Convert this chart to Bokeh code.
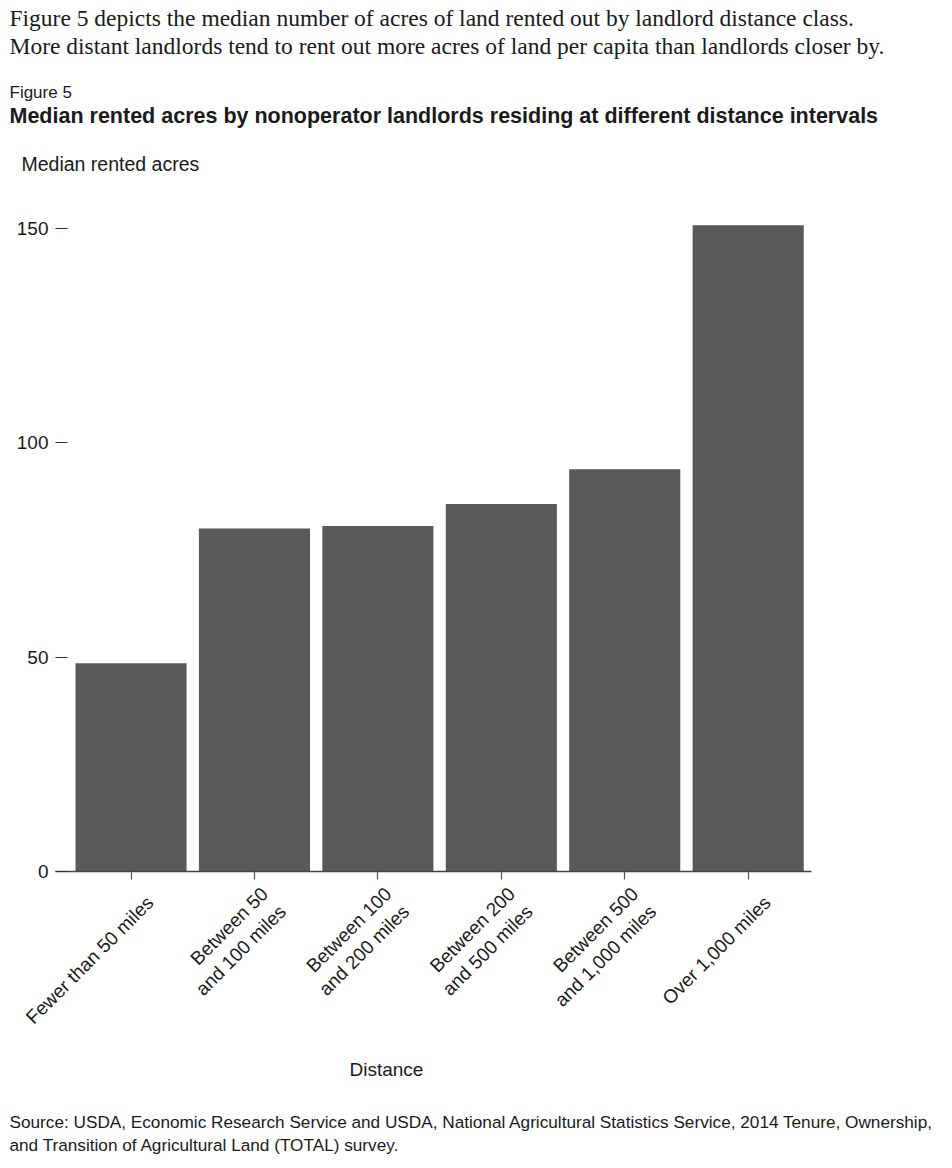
from math import pi
from bokeh.plotting import figure
from bokeh.models import Range1d, FixedTicker, Title, ColumnDataSource, LinearAxis
from bokeh.embed import file_html
from bokeh.resources import INLINE

# ---- data ----
categories = [
    "Fewer than 50 miles",
    "Between 50\nand 100 miles",
    "Between 100\nand 200 miles",
    "Between 200\nand 500 miles",
    "Between 500\nand 1,000 miles",
    "Over 1,000 miles",
]
median_acres = [48.6, 80.0, 80.6, 85.7, 93.8, 150.7]
y_ticks = [0, 50, 100, 150]

intro_lines = [
    "Figure 5 depicts the median number of acres of land rented out by landlord distance class.",
    "More distant landlords tend to rent out more acres of land per capita than landlords closer by.",
]
figure_label = "Figure 5"
title_text = "Median rented acres by nonoperator landlords residing at different distance intervals"
y_label = "Median rented acres"
x_label = "Distance"
source_lines = [
    "Source: USDA, Economic Research Service and USDA, National Agricultural Statistics Service, 2014 Tenure, Ownership,",
    "and Transition of Agricultural Land (TOTAL) survey.",
]

SANS = "Liberation Sans"
SERIF = "Liberation Serif"
BAR = "#595959"
TXT = "#1a1a1a"

x_pos = list(range(len(categories)))
label_shift = 0.155
label_pos = [i + label_shift for i in x_pos]
src = ColumnDataSource(dict(x=x_pos, top=median_acres))

p = figure(
    width=944, height=1160, title=None,
    x_range=Range1d(-0.612, 5.513), y_range=Range1d(0, 160),
    min_border_left=55, min_border_right=133,
    min_border_top=185, min_border_bottom=289,
    output_backend="svg", toolbar_location=None,
    outline_line_color=None, background_fill_color="white",
    border_fill_color="white",
)
p.grid.visible = False

p.vbar(x="x", top="top", bottom=0, width=0.9, source=src,
       fill_color=BAR, line_color=None)

# y axis
ya = p.yaxis[0]
ya.ticker = FixedTicker(ticks=y_ticks)
ya.axis_line_color = None
ya.major_tick_in = 12
ya.major_tick_out = 0
ya.minor_tick_line_color = None
ya.major_tick_line_color = "#333333"
ya.major_tick_line_width = 1.2
ya.major_label_standoff = 7
ya.major_label_text_font = SANS
ya.major_label_text_font_size = "19px"
ya.major_label_text_color = TXT

# x axis: line + tick marks only
xa = p.xaxis[0]
xa.ticker = FixedTicker(ticks=x_pos)
xa.major_label_overrides = {i: "" for i in x_pos}
xa.axis_line_color = "#444444"
xa.axis_line_width = 1.6
xa.major_tick_in = 0
xa.major_tick_out = 8
xa.major_tick_line_color = "#555555"
xa.major_tick_line_width = 1.2
xa.minor_tick_line_color = None
xa.major_label_standoff = 0

# x axis: category labels
xl = LinearAxis(ticker=FixedTicker(ticks=label_pos),
                major_label_overrides={v: c for v, c in zip(label_pos, categories)},
                major_label_orientation=pi / 4,
                axis_line_color=None, major_tick_line_color=None,
                minor_tick_line_color=None, major_label_standoff=14,
                major_label_text_font=SANS, major_label_text_font_size="19px",
                major_label_text_color=TXT, major_label_text_align="right")
p.add_layout(xl, "below")

def add_title(text, side, font, size, offset, standoff, style="normal"):
    p.add_layout(Title(text=text, align="left", offset=offset, standoff=standoff,
                       text_font=font, text_font_size=size, text_font_style=style,
                       text_color=TXT), side)

# above: first added is closest to the plot frame
add_title(y_label, "above", SANS, "19.5px", -34, 21.2)
add_title(" ", "above", SANS, "2px", 0, 9.2)            # spacer
add_title(title_text, "above", SANS, "21.5px", -46, 0, style="bold")
add_title(figure_label, "above", SANS, "17px", -46, 0)
add_title(" ", "above", SANS, "2px", 0, 18)             # spacer
add_title(intro_lines[1], "above", SERIF, "23.5px", -46, 0)
add_title(intro_lines[0], "above", SERIF, "23.5px", -46, 0)
# below: first added is closest to the plot frame
add_title(x_label, "below", SANS, "19px", 294, 36)
add_title(" ", "below", SANS, "2px", 0, 6.4)            # spacer
add_title(source_lines[0], "below", SANS, "17.2px", -46, 1.6)
add_title(source_lines[1], "below", SANS, "17.2px", -46, 0)

open("out.html", "w").write(file_html(p, INLINE))
